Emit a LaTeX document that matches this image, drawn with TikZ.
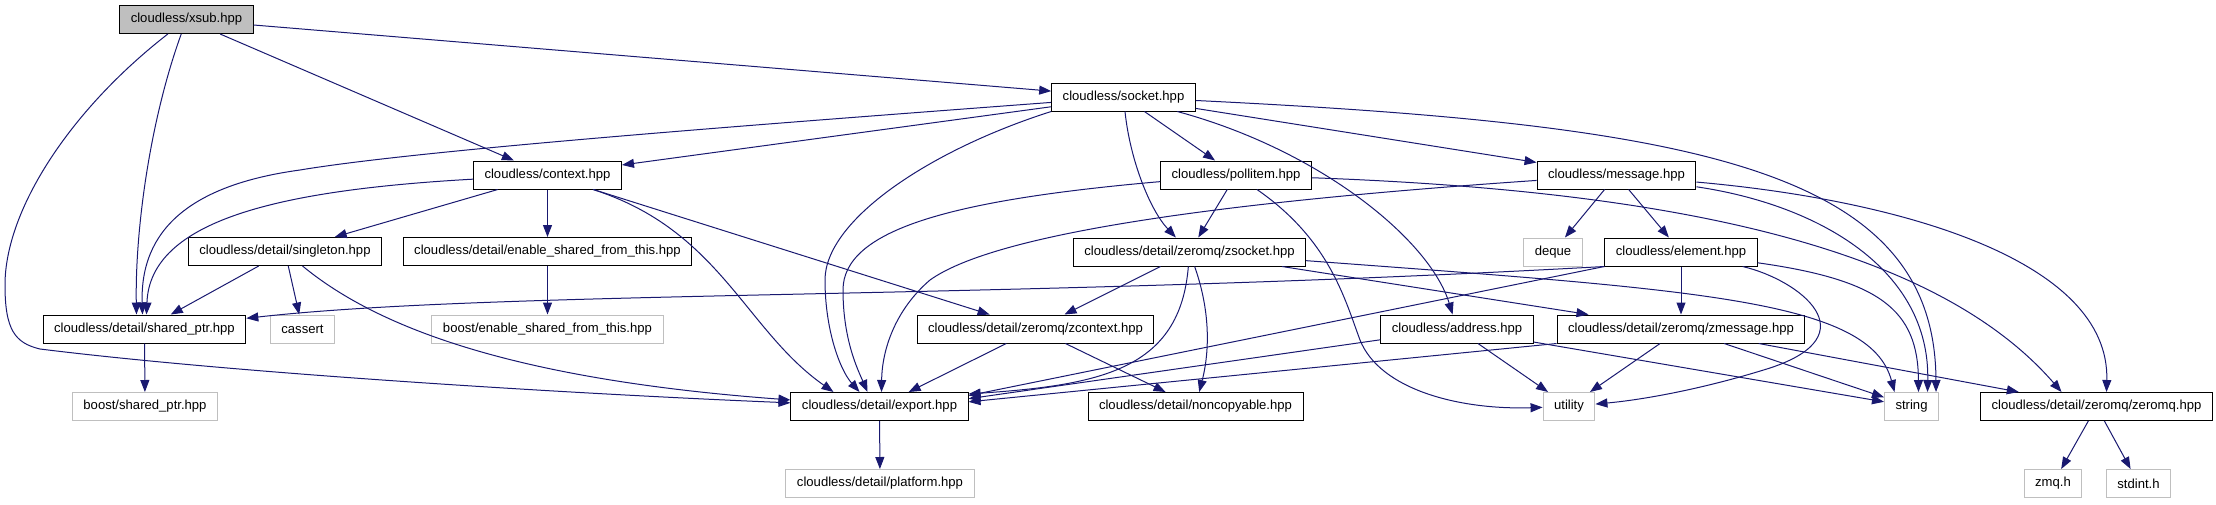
\documentclass[tikz,border=0pt]{standalone}
\usepackage{fontspec}
\setmainfont{Liberation Sans}
\usetikzlibrary{arrows.meta}
\definecolor{edgeblue}{HTML}{191970}
\definecolor{boxgray}{HTML}{BFBFBF}

\begin{document}
\begin{tikzpicture}[x=1pt, y=-1pt,
	every node/.style={font=\fontsize{13.1}{15}\selectfont},
	file/.style={draw=black, line width=1pt, fill=white, minimum height=28pt, inner xsep=11pt, inner ysep=0pt},
	extfile/.style={file, draw=boxgray},
	topfile/.style={file, fill=boxgray},
	dep/.style={edgeblue, line width=1pt, -{Triangle[length=12pt,width=9pt]}}]
	\useasboundingbox (0,0) rectangle (2216,504);

	\node[topfile] (xsub) at (186.5,19.5) {cloudless/xsub.hpp};
	\node[file] (socket) at (1123.5,97) {cloudless/socket.hpp};
	\node[file] (context) at (547.5,175) {cloudless/context.hpp};
	\node[file] (pollitem) at (1236,175) {cloudless/pollitem.hpp};
	\node[file] (message) at (1616.5,175) {cloudless/message.hpp};
	\node[file] (singleton) at (285,251.5) {cloudless/detail/singleton.hpp};
	\node[file] (enablesft) at (547.5,251.5) {cloudless/detail/enable\_shared\_from\_this.hpp};
	\node[file] (zsocket) at (1189.5,252) {cloudless/detail/zeromq/zsocket.hpp};
	\node[extfile] (deque) at (1553,252) {deque};
	\node[file] (element) at (1681,252) {cloudless/element.hpp};
	\node[file] (sharedptr) at (144.5,329) {cloudless/detail/shared\_ptr.hpp};
	\node[extfile] (cassert) at (302.5,329) {cassert};
	\node[extfile] (boostesft) at (547.5,329) {boost/enable\_shared\_from\_this.hpp};
	\node[file] (zcontext) at (1035.5,329) {cloudless/detail/zeromq/zcontext.hpp};
	\node[file] (address) at (1457,329) {cloudless/address.hpp};
	\node[file] (zmessage) at (1681,329) {cloudless/detail/zeromq/zmessage.hpp};
	\node[extfile] (boostsp) at (145,406.5) {boost/shared\_ptr.hpp};
	\node[file] (export) at (879.5,406.5) {cloudless/detail/export.hpp};
	\node[file] (noncopyable) at (1195.5,406.5) {cloudless/detail/noncopyable.hpp};
	\node[extfile] (utility) at (1569,406.5) {utility};
	\node[extfile] (string) at (1911.5,406.5) {string};
	\node[file] (zeromq) at (2096.5,406.5) {cloudless/detail/zeromq/zeromq.hpp};
	\node[extfile] (platform) at (880,483.5) {cloudless/detail/platform.hpp};
	\node[extfile] (zmqh) at (2053,483.5) {zmq.h};
	\node[extfile] (stdinth) at (2138.5,483.5) {stdint.h};

	\draw[dep] (xsub) -- (socket);
	\draw[dep] (xsub) -- (context);
	\draw[dep] (xsub) .. controls (150,120) and (135,230) .. ([xshift=-8pt]sharedptr.north);
	\draw[dep] (xsub) .. controls (70,110) and (5,210) .. (5,285) .. controls (5,330) and (15,343) .. (40,349) .. controls (250,375) and (600,395) .. (export);

	\draw[dep] (socket) -- (context);
	\draw[dep] (socket) .. controls (750,125) and (420,150) .. (300,170) .. controls (190,185) and (140,230) .. ([xshift=-2pt]sharedptr.north);
	\draw[dep] (socket.south west) .. controls (930,150) and (825,220) .. (825,280) .. controls (825,330) and (840,370) .. ([xshift=-20pt]export.north);
	\draw[dep] (socket) .. controls (1130,160) and (1150,210) .. (zsocket);
	\draw[dep] (socket) -- (pollitem);
	\draw[dep] (socket) -- (message);
	\draw[dep] (socket) .. controls (1320,150) and (1430,240) .. (address);
	\draw[dep] (socket) .. controls (1700,125) and (1935,170) .. ([xshift=-3pt]string.north east);

	\draw[dep] (context) -- (singleton);
	\draw[dep] (context) -- (enablesft);
	\draw[dep] (context) .. controls (280,190) and (150,220) .. ([xshift=2pt]sharedptr.north);
	\draw[dep] (context) .. controls (720,230) and (745,330) .. ([xshift=-46pt]export.north);
	\draw[dep] (context) -- (zcontext);

	\draw[dep] (singleton) -- (sharedptr);
	\draw[dep] (singleton) -- (cassert);
	\draw[dep] (singleton) .. controls (380,330) and (520,380) .. (export);
	\draw[dep] (enablesft) -- (boostesft);
	\draw[dep] (sharedptr) -- (boostsp);
	\draw[dep] (export) -- (platform);

	\draw[dep] (pollitem) -- (zsocket);
	\draw[dep] (pollitem) .. controls (950,200) and (843,230) .. (843,290) .. controls (843,340) and (858,370) .. ([xshift=-12pt]export.north);
	\draw[dep] (pollitem) .. controls (1330,240) and (1345,300) .. (1360,340) .. controls (1380,390) and (1460,410) .. (utility);
	\draw[dep] (pollitem) .. controls (1650,190) and (1930,240) .. ([xshift=-35pt]zeromq.north);

	\draw[dep] (zsocket) -- (zcontext);
	\draw[dep] (zsocket) .. controls (1180,370) and (1100,385) .. (export.8);
	\draw[dep] (zsocket) .. controls (1210,310) and (1210,350) .. (noncopyable);
	\draw[dep] (zsocket) -- (zmessage);
	\draw[dep] (zsocket) .. controls (1700,290) and (1870,300) .. ([xshift=-17pt]string.north);
	\draw[dep] (zcontext) -- (export);
	\draw[dep] (zcontext) -- (noncopyable);

	\draw[dep] (message) -- (deque);
	\draw[dep] (message) -- (element);
	\draw[dep] (message) .. controls (1250,200) and (1000,230) .. (930,280) .. controls (895,310) and (882,350) .. ([xshift=2pt]export.north);
	\draw[dep] (message) .. controls (1820,205) and (1930,270) .. ([xshift=16pt]string.north);
	\draw[dep] (message) .. controls (1900,200) and (2110,260) .. ([xshift=10pt]zeromq.north);

	\draw[dep] (element.south west) .. controls (1000,300) and (500,290) .. (sharedptr.6);
	\draw[dep] (element) -- (zmessage);
	\draw[dep] (element.south west) -- (export.7);
	\draw[dep] (element) .. controls (1800,280) and (1870,335) .. (1770,368) .. controls (1700,390) and (1640,400) .. (utility);
	\draw[dep] (element) .. controls (1880,280) and (1918,310) .. ([xshift=7pt]string.north);

	\draw[dep] (address.188) -- (export.5);
	\draw[dep] (address) -- (utility);
	\draw[dep] (address) -- (string);

	\draw[dep] (zmessage.south west) -- (export.3);
	\draw[dep] (zmessage) -- (utility);
	\draw[dep] (zmessage) -- (string);
	\draw[dep] (zmessage) -- (zeromq);

	\draw[dep] (zeromq) -- (zmqh);
	\draw[dep] (zeromq) -- (stdinth);
\end{tikzpicture}
\end{document}
